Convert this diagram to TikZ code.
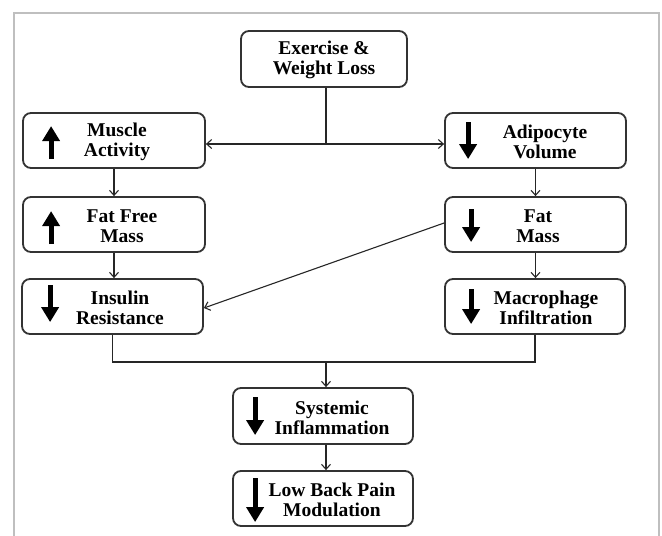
\documentclass[tikz,border=0pt]{standalone}
\usepackage{fontspec}
\setmainfont{Liberation Serif}
\usetikzlibrary{arrows.meta}
\begin{document}
\begin{tikzpicture}[x=1pt,y=-1pt,
  box/.style={draw=black!80,line width=1.8pt,rounded corners=8pt,minimum width=#1,minimum height=55pt,inner sep=0pt},
  box/.default=181pt,
  lbl/.style={font=\bfseries\fontsize{19.5}{20.5}\selectfont,align=center,inner sep=0pt},
  conn/.style={draw=black!85,line width=1.3pt},
  carrow/.style={conn,-{Straight Barb[length=5pt,width=9pt,line width=1.1pt]}},
  bigarr/.style={line width=4.8pt,-{Triangle[width=17pt,length=15pt]}},
]
\useasboundingbox (0,0) rectangle (662,536);
\fill[white] (0,0) rectangle (662,536);
\draw[black!25,line width=2pt] (14,537) -- (14,13) -- (659,13) -- (659,537);

% boxes
\node[box=166pt,minimum height=56pt] (ex) at (324,59) {};
\node[box=182pt] (mus) at (114,140.5) {};
\node[box] (adi) at (535.5,140.5) {};
\node[box=182pt] (ffm) at (114,224.5) {};
\node[box] (fm) at (535.5,224.5) {};
\node[box] (ins) at (112.5,306.5) {};
\node[box=180pt] (mac) at (535,306.5) {};
\node[box=180pt,minimum height=56pt] (sys) at (323,416) {};
\node[box=180pt] (lbp) at (323,498.5) {};

% labels
\node[lbl] (tex) at (324,60) {Exercise \&\\Weight Loss};
\node[lbl] (tmus) at (117,142) {Muscle\\Activity};
\node[lbl] (tadi) at (545,142) {Adipocyte\\Volume};
\node[lbl] (tffm) at (122,226) {Fat Free\\Mass};
\node[lbl] (tfm) at (538,226) {Fat\\Mass};
\node[lbl] (tins) at (120,308) {Insulin\\Resistance};
\node[lbl] (tmac) at (546,308) {Macrophage\\Infiltration};
\node[lbl] (tsys) at (332,418) {Systemic\\Inflammation};
\node[lbl] (tlbp) at (332,500) {Low Back Pain\\Modulation};

% big up/down arrows
\draw[bigarr] ([xshift=29pt]mus.north west) ++(0,47) -- ++(0,-33);
\draw[bigarr] ([xshift=29pt]ffm.north west) ++(0,48) -- ++(0,-33);
\draw[bigarr] ([xshift=29pt]ins.north west) ++(0,7) -- ++(0,37);
\draw[bigarr] ([xshift=24pt]adi.north west) ++(0,10) -- ++(0,37);
\draw[bigarr] ([xshift=27pt]fm.north west) ++(0,13) -- ++(0,33);
\draw[bigarr] ([xshift=27pt]mac.north west) ++(0,11) -- ++(0,35);
\draw[bigarr] ([xshift=23pt]sys.north west) ++(0,10) -- ++(0,38);
\draw[bigarr] ([xshift=23pt]lbp.north west) ++(0,8) -- ++(0,44);

% connectors
\coordinate (split) at (326,144);
\draw[conn] (ex.south -| split) -- (split);
\draw[carrow] (split) -- (split -| mus.east);
\draw[carrow] (split) -- (split -| adi.west);
\draw[carrow] (mus.south) -- (ffm.north);
\draw[carrow] (ffm.south) -- (ffm.south |- ins.north);
\draw[carrow] (adi.south) -- (fm.north);
\draw[carrow] (fm.south) -- (fm.south |- mac.north);
\draw[carrow,line width=1.1pt] ([yshift=1.5pt]fm.west) -- ([yshift=-1.5pt]ins.east);
\coordinate (join) at (326,362);
\draw[conn] (ins.south) -- (ins.south |- join) -- (mac.south |- join) -- (mac.south);
\draw[carrow] (join) -- (join |- sys.north);
\draw[carrow] (sys.south -| join) -- (lbp.north -| join);
\end{tikzpicture}
\end{document}
